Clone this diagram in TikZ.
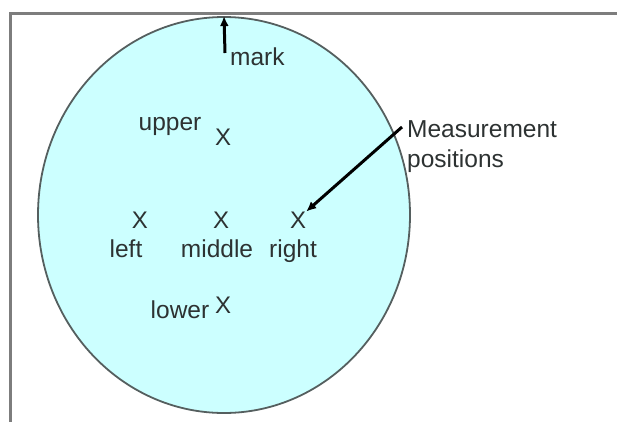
\documentclass[tikz,border=0pt]{standalone}
\usepackage{fontspec}
\setmainfont{Liberation Sans}
\usetikzlibrary{shapes.geometric}
\usetikzlibrary{arrows.meta}
\definecolor{disc}{RGB}{204,255,255}
\definecolor{rim}{RGB}{85,95,95}
\definecolor{frame}{RGB}{125,125,125}
\definecolor{ink}{RGB}{45,50,50}

\begin{document}
\begin{tikzpicture}[x=1pt, y=-1pt, every node/.style={font=\fontsize{24.5}{30}\selectfont, text=ink, inner sep=0pt},
    cross/.style={font=\fontsize{24}{28}\selectfont},
    pointer/.style={line width=3pt, black, -{Latex[length=10pt,width=9pt]}}]
    \useasboundingbox (0,0) rectangle (617,421);
    \draw[frame, line width=3pt] (620,13) -- (10,13) -- (10,425);

    \node[ellipse, draw=rim, fill=disc, line width=1.8pt, minimum width=372pt, minimum height=396pt] (wafer) at (224,215) {};

    % measurement positions
    \foreach \nm/\px/\py in {upper/223/137, left/140/220, middle/221/220, right/298/220, lower/223/305} {
        \node[cross] (x\nm) at (\px,\py) {X};
    }
    \node[anchor=base] (lblupper) at (170,130) {upper};
    \node[anchor=base] (lblleft) at (126,257) {left};
    \node[anchor=base] (lblmiddle) at (217,257) {middle};
    \node[anchor=base] (lblright) at (293,257) {right};
    \node[anchor=base] (lbllower) at (180,318) {lower};

    % mark at the top
    \coordinate (marktail) at (225,53);
    \draw[pointer] (marktail) -- (wafer.north);
    \node[anchor=base west] (lblmark) at (230,65) {mark};

    \node[anchor=north west, align=left] (meas) at (407,120) {Measurement\\positions};
    \coordinate (meastail) at (402,127);
    \draw[pointer] (meastail) -- (xright.north east);
\end{tikzpicture}
\end{document}
